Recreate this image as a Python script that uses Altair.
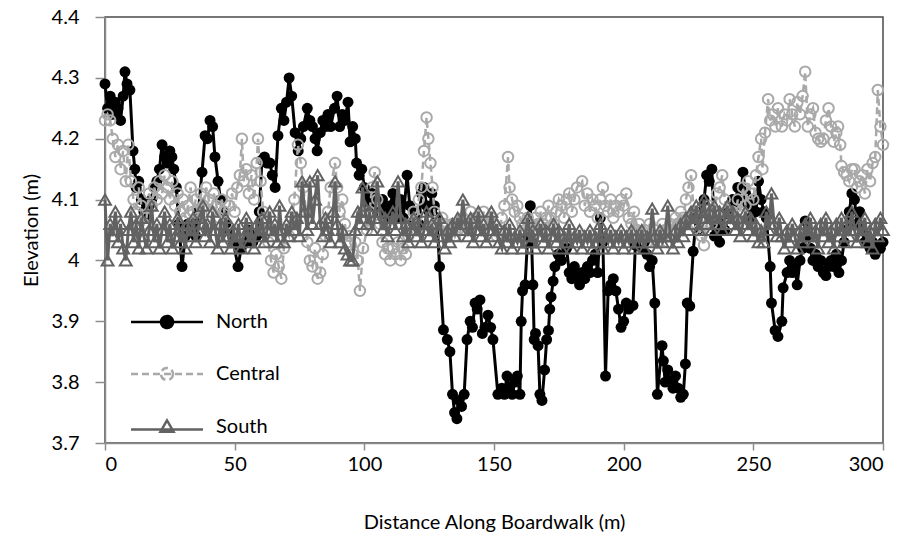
import altair as alt
import pandas as pd

# ---------------- data ----------------
north_x = [0, 1, 2, 3, 4, 5, 6, 7, 7.7, 8.5, 9.6, 10.8, 11.5, 12, 13, 14, 15, 16, 17, 18, 19, 20, 21, 22, 23, 24, 25, 25.8, 26.5, 27.5, 28.5, 29.7,
           31, 32, 33, 34, 35, 36, 37.4, 38.6, 39.5, 40.5, 41.5, 42.4, 43.6, 44.5, 45.5, 46.5, 48, 49.5, 51.3, 52.5, 54, 55.5, 57, 58.5, 59.5,
           60.5, 61.5, 62.5, 63.6, 64.5, 65.6, 66.7, 68, 69, 70, 71, 72, 73.3, 74.5, 75.5, 76.5, 78, 79, 80, 81, 81.8, 83, 84, 85, 86, 87,
           88.5, 89.5, 90.5, 91.5, 92.5, 93.7, 94.5, 95.5, 96.5, 97, 98, 99, 100, 101, 102, 103, 104, 105, 106, 107, 108, 109, 110, 111, 112,
           113, 114, 115, 116.5, 117.5, 119, 120, 121, 122, 123, 124, 125, 126, 127, 128, 129, 130.5, 132, 133, 134, 134.8, 135.7, 136.5,
           137.5, 138.5, 139.6, 140.8, 141.7, 142.7, 143.5, 144.6, 145.5, 146.5, 147.7, 148.7, 149.6, 151.5, 153, 154, 155, 156, 157, 158,
           159, 160, 160.5, 161, 162, 163, 164, 164.5, 165, 165.5, 166, 167, 167.7, 168.5, 169.5, 170.3, 171, 171.5, 172, 172.8, 173.5,
           174.7, 176, 178, 179, 180, 181, 182, 183, 184, 185, 186, 187, 188, 189, 190, 191, 192, 193, 194, 195, 196, 197, 198, 199, 200,
           201, 202, 203.6, 204.5, 205.5, 207, 208, 209, 210, 211, 212, 213, 214.8, 215.3, 216, 217, 218, 219, 220, 221, 222, 223, 223.8,
           224.5, 225.5, 226.8, 228, 229, 230, 231, 232, 233, 234, 235, 236, 237, 238, 239, 240, 241, 242, 243, 244, 245, 246, 247, 248,
           249, 250, 251, 252, 253, 254, 255, 256.5, 257, 258.4, 259.5, 261, 261.5, 263, 264, 265, 266, 266.9, 268, 269, 270, 271, 272,
           273, 274, 275, 276, 277, 278, 279, 280, 281, 282, 283, 284, 285, 286, 287, 288, 289, 290, 291, 292, 293, 294, 295, 296, 297,
           298, 299, 300]
north_y = [4.29, 4.25, 4.27, 4.24, 4.26, 4.25, 4.23, 4.27, 4.31, 4.29, 4.28, 4.18, 4.15, 4.12, 4.13, 4.10, 4.08, 4.07, 4.09, 4.10, 4.12, 4.13,
           4.15, 4.19, 4.17, 4.16, 4.18, 4.17, 4.15, 4.12, 4.06, 3.99,
           4.04, 4.06, 4.05, 4.06, 4.04, 4.08, 4.145, 4.205, 4.20, 4.23, 4.22, 4.17, 4.13, 4.10, 4.08, 4.06, 4.05, 4.03, 3.99, 4.02, 4.03,
           4.05, 4.03, 4.04, 4.08,
           4.165, 4.17, 4.16, 4.16, 4.14, 4.12, 4.205, 4.25, 4.23, 4.26, 4.30, 4.27, 4.21, 4.18, 4.20, 4.22, 4.25, 4.23, 4.22, 4.20, 4.18,
           4.21, 4.23, 4.22, 4.24, 4.22,
           4.25, 4.27, 4.22, 4.24, 4.23, 4.26, 4.195, 4.22, 4.20, 4.16, 4.14, 4.15, 4.12, 4.10, 4.09, 4.11, 4.10, 4.08, 4.09, 4.10, 4.08,
           4.07, 4.09, 4.11, 4.08,
           4.07, 4.10, 4.07, 4.14, 4.09, 4.06, 4.08, 4.06, 4.11, 4.12, 4.09, 4.08, 4.11, 4.09, 4.07, 3.99, 3.886, 3.87, 3.85, 3.78, 3.75,
           3.74, 3.77,
           3.76, 3.78, 3.87, 3.90, 3.89, 3.93, 3.92, 3.935, 3.88, 3.89, 3.91, 3.89, 3.87, 3.78, 3.79, 3.78, 3.81, 3.79, 3.78, 3.80,
           3.81, 3.78, 3.90, 3.95, 3.96, 4.04, 4.09, 4.03, 3.96, 3.87, 3.88, 3.86, 3.78, 3.77, 3.82, 3.87, 3.885, 3.92, 3.94, 3.966, 3.99,
           4.01, 4.00, 4.02, 3.98, 3.97, 3.99, 3.97, 3.96, 3.98, 3.97, 3.99, 3.98, 4.00, 4.01, 3.98, 4.07, 4.03, 3.81, 3.95, 3.96, 3.97,
           3.95, 3.92, 3.89, 3.90,
           3.93, 3.92, 3.926, 4.025, 4.025, 4.02, 4.03, 4.01, 3.99, 4.00, 3.93, 3.78, 3.86, 3.835, 3.80, 3.82, 3.80, 3.79, 3.81, 3.79,
           3.775, 3.78, 3.83,
           3.93, 3.925, 4.015, 4.07, 4.05, 4.08, 4.10, 4.14, 4.13, 4.15, 4.04, 4.05, 4.03, 4.06, 4.05, 4.08, 4.07, 4.10, 4.09, 4.12, 4.10,
           4.145, 4.11, 4.09,
           4.07, 4.10, 4.08, 4.13, 4.10, 4.08, 4.07, 3.99, 3.93, 3.885, 3.875, 3.90, 3.955, 3.98, 4.00, 3.98, 3.99, 3.96, 4.00, 4.02,
           4.065, 4.04, 4.02,
           4.00, 4.01, 3.99, 4.00, 3.98, 3.975, 3.99, 4.00, 3.99, 4.01, 3.98, 4.00, 4.03, 4.05, 4.08, 4.11, 4.10, 4.06, 4.08, 4.05, 4.03,
           4.04, 4.02, 4.03, 4.01,
           4.02, 4.02, 4.03]

central_x = [0, 1, 2, 3, 4, 5, 6, 7, 8, 9, 10, 11, 12, 13, 14, 15, 16, 17, 18, 19, 20, 21, 22, 23, 24, 25, 26, 27, 28, 29, 30, 31, 32, 33,
             34, 35, 36, 37, 38, 39, 40, 41, 42, 43, 44, 45, 46, 47, 48, 49, 50, 51, 52, 52.8, 53.5, 54.5, 55.5, 56.5, 57.5, 58.5, 59,
             60, 61, 62, 63, 64, 65, 66, 67, 68, 69, 70, 71, 72, 73, 74.4, 75.5, 76.5, 77.5, 78, 79, 80, 81, 82, 83, 84, 85, 86, 87, 88.7,
             89.5, 90.5, 91.5, 92.5, 93.5, 94.5, 95.5, 96.5, 97.5, 98.3, 99.5, 101, 102, 103, 104, 105, 106, 107, 108, 109, 110, 111, 112,
             113, 114, 115, 116, 117, 118, 119, 120, 121, 122, 123, 124, 124.7, 125.5, 126.3, 127, 128, 129, 130, 131, 132, 133, 134, 135,
             136, 137, 138, 139, 140, 141, 142, 143, 144, 145, 146, 147, 148, 149, 150, 151, 152, 153, 154, 155.4, 156, 157, 158, 159,
             160, 161, 162, 163, 164, 165, 166, 167, 168, 169, 170, 171, 172, 173, 174, 175, 176, 177, 178, 179, 180, 181, 182, 184,
             185, 186, 187, 188, 189, 190, 191, 192, 193, 194, 195, 196, 197, 198, 199, 200, 201, 202, 203, 204, 205, 206, 207, 208,
             209, 210, 211, 212, 213, 214, 215, 216, 217, 218, 219, 220, 221, 222, 223, 224, 225, 226, 227, 228, 229, 230, 231, 232,
             233, 234, 235, 236, 237, 238, 239, 240, 241, 242, 243, 244, 245, 246, 247, 248, 249, 250, 251, 252, 253, 253.5, 254.5,
             255.7, 256.5, 257.5, 258.5, 259.5, 261, 262, 263, 264, 265, 266, 267, 268, 269, 270, 271, 272, 273, 274, 275, 276, 277,
             278, 279, 280, 281, 282, 282.7, 283.5, 284, 285, 286, 287, 288, 289, 290, 291, 292, 293, 294, 295, 296, 297, 298, 299, 300]
central_y = [4.23, 4.24, 4.23, 4.20, 4.17, 4.19, 4.15, 4.18, 4.13, 4.19, 4.13, 4.10, 4.08, 4.12, 4.09, 4.06, 4.07, 4.11, 4.09, 4.12, 4.10,
             4.13, 4.11, 4.14, 4.12, 4.10, 4.13, 4.09, 4.11, 4.08, 4.10, 4.07, 4.09, 4.12,
             4.08, 4.10, 4.07, 4.11, 4.09, 4.12, 4.10, 4.08, 4.11, 4.09, 4.07, 4.10, 4.08, 4.06, 4.09, 4.11, 4.08, 4.12, 4.14, 4.20, 4.13,
             4.15, 4.11, 4.14, 4.10, 4.16, 4.20,
             4.13, 4.08, 4.05, 4.03, 4.00, 3.98, 4.01, 3.99, 3.97, 4.02, 4.05, 4.04, 4.07, 4.10, 4.19, 4.16, 4.12, 4.08, 4.03, 4.00, 3.99,
             4.02, 3.97, 3.98, 4.01, 4.04, 4.08, 4.12, 4.16,
             4.12, 4.08, 4.10, 4.06, 4.03, 4.04, 4.01, 4.03, 4.00, 3.95, 4.02, 4.05, 4.08, 4.12, 4.145, 4.10, 4.06, 4.03, 4.01, 4.02, 4.00,
             4.02, 4.01,
             4.03, 4.00, 4.02, 4.01, 4.04, 4.06, 4.08, 4.07, 4.10, 4.12, 4.18, 4.235, 4.20, 4.16, 4.12, 4.08, 4.06, 4.05, 4.07, 4.06, 4.04,
             4.05, 4.06, 4.04,
             4.05, 4.06, 4.07, 4.05, 4.06, 4.08, 4.06, 4.07, 4.05, 4.06, 4.08, 4.06, 4.05, 4.07, 4.06, 4.04, 4.05, 4.07, 4.09, 4.17, 4.12,
             4.10, 4.08, 4.09,
             4.07, 4.06, 4.05, 4.07, 4.06, 4.05, 4.07, 4.06, 4.08, 4.06, 4.07, 4.09, 4.07, 4.06, 4.08, 4.10, 4.09, 4.07, 4.10, 4.11, 4.08,
             4.10, 4.12, 4.13,
             4.09, 4.11, 4.08, 4.10, 4.09, 4.07, 4.10, 4.12, 4.09, 4.08, 4.10, 4.07, 4.09, 4.08, 4.10, 4.09, 4.11, 4.07, 4.06, 4.08, 4.05,
             4.06, 4.04, 4.05,
             4.03, 4.06, 4.04, 4.05, 4.03, 4.04, 4.06, 4.05, 4.03, 4.06, 4.05, 4.07, 4.06, 4.08, 4.07, 4.10, 4.12, 4.14, 4.08, 4.06, 4.05,
             4.04, 4.025, 4.07,
             4.09, 4.06, 4.08, 4.11, 4.12, 4.14, 4.10, 4.08, 4.06, 4.08, 4.07, 4.10, 4.08, 4.12, 4.09, 4.13, 4.11, 4.10, 4.14, 4.17, 4.20,
             4.15, 4.21,
             4.265, 4.23, 4.24, 4.22, 4.25, 4.22, 4.24, 4.23, 4.265, 4.24, 4.22, 4.26, 4.24, 4.27, 4.31, 4.22, 4.24, 4.25, 4.21, 4.20,
             4.195, 4.20,
             4.23, 4.25, 4.22, 4.195, 4.21, 4.22, 4.19, 4.155, 4.145, 4.14, 4.13, 4.15, 4.15, 4.12, 4.13, 4.14, 4.11, 4.15, 4.13, 4.16,
             4.17, 4.28, 4.22, 4.19]

south_x = [0, 1, 2, 3, 4, 5, 6, 7, 8, 9, 10, 11, 12, 13, 14, 15, 16, 17, 18, 19, 20, 21, 22, 23, 24, 25, 26, 27, 28, 29, 30, 31, 32, 33, 34,
           35, 36, 37, 37.8, 38.5, 39.5, 40.5, 41.5, 42.5, 43.5, 44.5, 45.5, 46.5, 47.5, 48.5, 49.5, 50.5, 51.5, 52.5, 53.5, 54.5, 55.5,
           56.5, 57.5, 58.5, 59.5, 60.5, 61.5, 62.5, 63.5, 64.5, 65.5, 66.5, 67.3, 68, 69, 70, 71, 72, 73, 74, 75, 76, 77, 78, 79, 80,
           81, 82, 83, 84, 85, 86, 87, 88, 88.7, 89.5, 90.5, 91.5, 92.5, 93.5, 94.5, 95.5, 96.5, 97.5, 98.5, 99.3, 100, 101, 102, 103,
           104, 105, 106, 107, 108, 109, 110, 111, 112, 113, 114, 115, 116, 117, 118, 119, 120, 121, 122, 123, 124, 125, 126, 127, 128,
           129, 130, 131, 132, 133, 134, 135, 136, 137, 138, 139, 140, 141, 142, 143, 144, 145, 146, 147, 148, 149, 150, 151, 152, 153,
           154, 155, 156, 157, 158, 159, 160, 161, 162, 163, 164, 165, 166, 167, 168, 169, 170, 171, 172, 173, 174, 175, 176, 177, 178,
           179, 180, 181, 182, 183, 184, 185, 186, 187, 188, 189, 190, 191, 192, 193, 194, 195, 196, 197, 198, 199, 200, 201, 202, 203,
           204, 205, 206, 207, 208, 209, 210, 211, 212, 213, 214, 215, 216, 217, 218, 219, 220, 221, 222, 223, 224, 225, 226, 227, 228,
           229, 230, 231, 232, 233, 234, 235, 236, 237, 238, 239, 240, 241, 242, 243, 244, 245, 246, 247, 248, 249, 250, 251, 252, 253,
           254, 255, 256, 257, 258, 259, 260, 261, 262, 263, 264, 265, 266, 267, 268, 269, 270, 271, 272, 273, 274, 275, 276, 277, 278,
           279, 280, 281, 282, 283, 284, 285, 286, 287, 288, 289, 290, 291, 292, 293, 294, 295, 296, 297, 298, 299, 300]
south_y = [4.10, 4.00, 4.06, 4.04, 4.08, 4.03, 4.06, 4.02, 4.00, 4.05, 4.08, 4.03, 4.06, 4.02, 4.07, 4.04, 4.02, 4.05, 4.09, 4.03, 4.06,
           4.02, 4.05, 4.08, 4.03, 4.06, 4.02, 4.04, 4.07, 4.03, 4.05, 4.02, 4.06, 4.04, 4.07,
           4.03, 4.05, 4.07, 4.09, 4.04, 4.06, 4.03, 4.08, 4.05, 4.02, 4.06, 4.03, 4.07, 4.04, 4.02, 4.05, 4.03, 4.06, 4.02, 4.04, 4.07,
           4.03,
           4.05, 4.02, 4.06, 4.04, 4.07, 4.03, 4.05, 4.08, 4.04, 4.06, 4.03, 4.09, 4.05, 4.03, 4.06, 4.04, 4.08, 4.05, 4.07, 4.04, 4.13,
           4.08, 4.05, 4.13, 4.06,
           4.10, 4.14, 4.06, 4.04, 4.07, 4.05, 4.03, 4.08, 4.13, 4.06, 4.03, 4.05, 4.02, 4.01, 4.00, 4.00, 4.05, 4.08, 4.06, 4.12, 4.09,
           4.06, 4.08, 4.05,
           4.07, 4.13, 4.08, 4.05, 4.07, 4.04, 4.06, 4.08, 4.05, 4.13, 4.07, 4.04, 4.06, 4.03, 4.05, 4.07, 4.04, 4.06, 4.03, 4.05, 4.08,
           4.04, 4.06, 4.03, 4.05,
           4.07, 4.04, 4.02, 4.05, 4.03, 4.06, 4.04, 4.07, 4.05, 4.10, 4.06, 4.04, 4.07, 4.03, 4.05, 4.08, 4.04, 4.06, 4.03, 4.05, 4.08,
           4.04, 4.06, 4.03, 4.02,
           4.05, 4.03, 4.06, 4.02, 4.04, 4.03, 4.05, 4.02, 4.04, 4.07, 4.03, 4.05, 4.02, 4.04, 4.06, 4.03, 4.05, 4.02, 4.04, 4.06, 4.03,
           4.05, 4.02, 4.04, 4.03,
           4.06, 4.02, 4.04, 4.03, 4.05, 4.02, 4.04, 4.03, 4.05, 4.02, 4.04, 4.03, 4.06, 4.02, 4.04, 4.03, 4.05, 4.02, 4.04, 4.03, 4.05,
           4.02, 4.04, 4.03, 4.05,
           4.02, 4.04, 4.03, 4.05, 4.02, 4.04, 4.03, 4.085, 4.04, 4.02, 4.05, 4.03, 4.04, 4.09, 4.04, 4.02, 4.05, 4.03, 4.06, 4.04, 4.07,
           4.05, 4.08, 4.06, 4.09,
           4.05, 4.07, 4.10, 4.06, 4.08, 4.05, 4.09, 4.06, 4.08, 4.05, 4.07, 4.09, 4.06, 4.08, 4.05, 4.07, 4.04, 4.06, 4.08, 4.05, 4.07,
           4.04, 4.06, 4.03, 4.05,
           4.03, 4.08, 4.05, 4.11, 4.06, 4.04, 4.07, 4.04, 4.02, 4.05, 4.03, 4.06, 4.04, 4.02, 4.05, 4.03, 4.06, 4.04, 4.07, 4.03, 4.05,
           4.02, 4.06, 4.04, 4.07,
           4.03, 4.05, 4.02, 4.06, 4.04, 4.07, 4.03, 4.06, 4.04, 4.08, 4.05, 4.03, 4.06, 4.04, 4.07, 4.03, 4.05, 4.02, 4.06, 4.04, 4.07,
           4.05]

series_names = ["North", "Central", "South"]
x_ticks = [0, 50, 100, 150, 200, 250, 300]
y_ticks = [3.7, 3.8, 3.9, 4.0, 4.1, 4.2, 4.3, 4.4]

FONT = "Lato"
north_df = pd.DataFrame({"dist": north_x, "elev": north_y, "series": "North"})
central_df = pd.DataFrame({"dist": central_x, "elev": central_y, "series": "Central"})
south_df = pd.DataFrame({"dist": south_x, "elev": south_y, "series": "South"})

x_enc = alt.X("dist:Q", scale=alt.Scale(domain=[0, 300], nice=False, zero=False),
              axis=alt.Axis(values=x_ticks, title="Distance Along Boardwalk (m)", grid=False,
                            labelFontSize=20, titleFontSize=20, tickSize=7, labelPadding=4,
                            titlePadding=38, titleFontWeight="normal"))
y_enc = alt.Y("elev:Q", scale=alt.Scale(domain=[3.7, 4.4], nice=False, zero=False),
              axis=alt.Axis(values=y_ticks, format=".1~f", title="Elevation (m)", grid=False,
                            labelFontSize=20, titleFontSize=20, tickSize=10, labelPadding=16,
                            titlePadding=10, titleFontWeight="normal"))

c_north, c_central, c_south = "#000000", "#a9a9a9", "#626262"

north_line = alt.Chart(north_df).mark_line(color=c_north, strokeWidth=3).encode(x=x_enc, y=y_enc)
north_pts = alt.Chart(north_df).mark_point(filled=True, shape="circle", size=120, color=c_north, opacity=1).encode(x=x_enc, y=y_enc)
central_line = alt.Chart(central_df).mark_line(color=c_central, strokeWidth=2.5, strokeDash=[7, 4]).encode(x=x_enc, y=y_enc)
central_pts = alt.Chart(central_df).mark_point(filled=False, shape="circle", size=110, color=c_central, strokeWidth=2, opacity=1).encode(x=x_enc, y=y_enc)
south_line = alt.Chart(south_df).mark_line(color=c_south, strokeWidth=3).encode(x=x_enc, y=y_enc)
south_pts = alt.Chart(south_df).mark_point(filled=False, shape="triangle-up", size=140, color=c_south, strokeWidth=2, opacity=1).encode(x=x_enc, y=y_enc)

# legend: symbols are line + marker paths, legend layer carries no visible marks
paths = [
    "M-6,0H6M1,0A1,1 0 1,1 -1,0A1,1 0 1,1 1,0",
    "M-6,0H6M1,0A1,1 0 1,1 -1,0A1,1 0 1,1 1,0",
    "M-6,0.4H6M0,-1.1L1.1,0.8L-1.1,0.8Z",
]
leg = alt.Legend(orient="none", legendX=52, legendY=295, title=None, labelFontSize=20, labelFont=FONT,
                 labelColor="#000", symbolSize=144, symbolStrokeWidth=2.5, rowPadding=30,
                 labelOffset=39, padding=0, symbolOpacity=1)
legend_layer = alt.Chart(central_df).transform_filter("datum.elev > 100").mark_point(filled=True).encode(
    x=x_enc, y=y_enc,
    shape=alt.Shape("series:N", scale=alt.Scale(domain=series_names, range=paths), legend=leg),
    stroke=alt.Stroke("series:N", scale=alt.Scale(domain=series_names, range=[c_north, c_central, c_south]), legend=leg),
    fill=alt.Fill("series:N", scale=alt.Scale(domain=series_names, range=[c_north, "transparent", "transparent"]), legend=leg),
    strokeDash=alt.StrokeDash("series:N", scale=alt.Scale(domain=series_names, range=[[1, 0], [7, 4], [1, 0]]), legend=leg),
)

chart = alt.layer(north_line, north_pts, central_line, central_pts, south_line, south_pts, legend_layer).properties(
    width=778, height=426,
    autosize=alt.AutoSizeParams(type="none"),
    padding={"left": 105, "top": 17, "right": 28, "bottom": 107},
).configure(font=FONT).configure_view(stroke="#4a4a4a", strokeWidth=1.5).configure_axis(
    domainColor="#8c8c8c", domainWidth=1.5, tickColor="#8c8c8c", tickWidth=1.5,
    labelColor="#000", titleColor="#000", labelFont=FONT, titleFont=FONT,
)

chart.save("out.html", embed_options={"renderer": "svg", "actions": False})
